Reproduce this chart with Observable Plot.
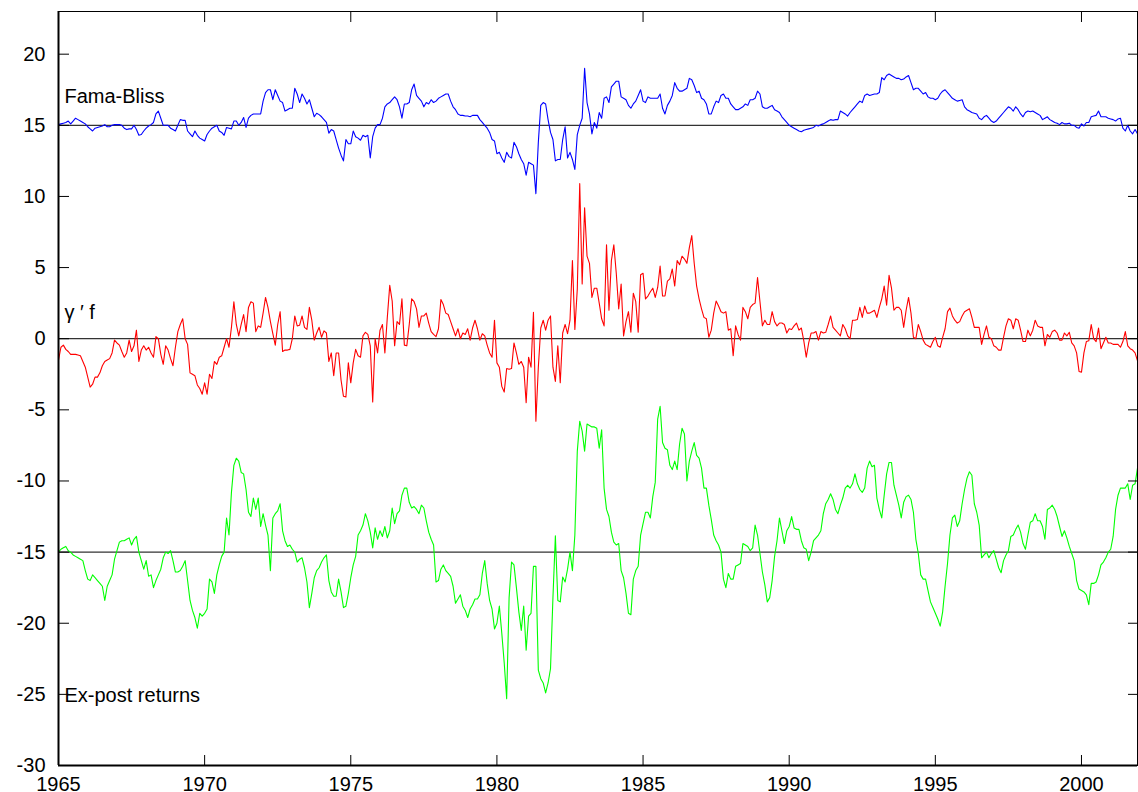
<!DOCTYPE html>
<html>
<head>
<meta charset="utf-8">
<script src="https://cdn.jsdelivr.net/npm/d3@7"></script>
<script src="https://cdn.jsdelivr.net/npm/@observablehq/plot@0.6"></script>
<style>
  html, body { margin: 0; padding: 0; background: #fff; }
  svg { display: block; }
</style>
</head>
<body>
<div id="chart"></div>
<script>
// Monthly series, January 1965 through December 2001 (one row per year).
const startYear = 1965;

// Fama-Bliss forecast (plotted around its 15 baseline)
const famaBliss = [
  15.05, 15.1, 15.15, 15.2, 15.3, 15.1, 15.3, 15.5, 15.4, 15.3, 15.2, 15.1,
  14.9, 14.75, 14.6, 14.8, 14.85, 14.9, 14.95, 15.05, 14.9, 14.9, 15.0, 15.05,
  15.05, 15.05, 15.0, 14.8, 14.7, 14.75, 14.75, 15.0, 14.7, 14.3, 14.35, 14.6,
  14.8, 14.95, 15.05, 15.2, 15.8, 16.0, 15.5, 15.0, 15.0, 15.0, 14.8, 14.7,
  14.6, 15.0, 15.4, 15.35, 15.35, 14.6, 14.4, 14.2, 14.6, 14.3, 14.1, 14.0,
  13.9, 14.35, 14.6, 14.8, 14.9, 15.0, 14.6, 14.5, 14.3, 14.85, 14.8, 14.75,
  15.3, 15.3, 15.0, 15.2, 15.55, 14.85, 15.5, 15.7, 15.8, 15.8, 15.8, 15.8,
  16.7, 17.3, 17.5, 17.5, 16.8, 17.5, 17.1, 16.7, 16.6, 16.0, 16.1, 16.2,
  16.2, 17.6, 17.2, 16.6, 17.2, 16.9, 16.5, 16.8, 16.2, 15.6, 15.85, 15.75,
  15.6, 15.4, 15.2, 14.45, 14.7, 14.6, 14.0, 13.4, 12.9, 12.5, 14.0, 13.7,
  13.7, 14.6, 14.2, 14.1, 13.95, 14.3, 14.2, 14.3, 12.7, 14.2, 14.8, 15.05,
  15.05, 15.5, 16.3, 16.5, 16.6, 16.8, 17.0, 16.8, 16.3, 15.5, 16.5, 16.5,
  16.6, 17.5, 17.9, 17.1, 16.9, 16.7, 16.3, 16.6, 16.5, 16.8, 16.6, 16.7,
  16.9, 17.0, 17.1, 17.2, 17.2, 16.7, 16.3, 16.1, 15.8, 15.7, 15.7, 15.65,
  15.65, 15.6, 15.7, 15.7, 15.7, 15.4, 15.2, 15.0, 14.8, 14.5, 14.0, 13.9,
  13.0, 13.1, 12.7, 12.4, 13.1, 12.8, 12.7, 13.8, 13.5, 13.0, 12.6, 12.3,
  11.5, 12.4, 12.3, 12.2, 10.2, 13.8, 16.4, 16.6, 16.5, 15.4, 14.5, 14.0,
  12.5, 12.6, 12.6, 14.0, 14.9, 12.7, 13.1, 12.6, 11.9, 14.35, 15.0, 15.5,
  19.0, 16.6, 15.8, 14.4, 15.2, 14.8, 15.9, 15.5, 16.9, 17.0, 16.6, 17.7,
  17.9, 18.1, 18.1, 17.0, 16.9, 16.8, 16.4, 16.2, 16.5, 16.7, 17.1, 17.5,
  16.7, 16.6, 17.0, 16.9, 16.9, 16.9, 16.9, 17.2, 16.2, 15.8, 16.4, 16.7,
  17.1, 18.0, 17.6, 17.4, 17.4, 17.5, 17.6, 18.3, 18.2, 17.8, 17.3, 17.4,
  16.9, 16.8, 16.5, 15.8, 15.8, 16.3, 16.7, 16.6, 17.1, 17.2, 16.9, 16.9,
  16.5, 16.3, 16.1, 16.1, 16.2, 16.3, 16.5, 16.4, 16.8, 16.8, 16.9, 17.4,
  17.2, 16.3, 16.2, 16.2, 16.3, 16.4, 16.1, 16.0, 15.9, 15.6, 15.4, 15.2,
  15.0, 14.9, 14.8, 14.7, 14.6, 14.55, 14.65, 14.7, 14.75, 14.8, 14.85, 15.0,
  14.95, 15.05, 15.1, 15.2, 15.3, 15.4, 15.35, 15.4, 15.4, 16.0, 15.9, 15.8,
  15.65, 15.9, 16.1, 16.3, 16.5, 16.7, 16.6, 17.1, 17.2, 17.1, 17.15, 17.2,
  17.2, 17.3, 18.35, 18.2, 18.5, 18.6, 18.5, 18.4, 18.3, 18.3, 18.2, 18.25,
  18.4, 18.5, 18.0, 17.5, 17.6, 17.6, 17.4, 17.2, 17.3, 17.0, 16.9, 16.9,
  16.8, 16.9, 17.2, 17.4, 17.5, 17.3, 17.1, 16.9, 16.8, 16.7, 16.75, 16.8,
  16.3, 16.1, 16.0, 15.9, 15.85, 15.8, 15.5, 15.4, 15.6, 15.7, 15.5, 15.3,
  15.2, 15.3, 15.5, 15.7, 15.9, 16.1, 16.3, 16.2, 16.0, 16.3, 16.1, 15.8,
  15.6, 15.9, 16.0, 15.95, 16.0, 15.9, 15.8, 15.7, 15.4, 15.5, 15.6, 15.4,
  15.3, 15.2, 15.15, 15.05, 15.2, 15.1, 15.1, 15.15, 15.0, 15.0, 14.85, 14.8,
  15.1, 14.95, 15.2, 15.2, 15.6, 15.65, 15.7, 16.0, 15.6, 15.6, 15.6, 15.5,
  15.45, 15.4, 15.3, 15.45, 15.5, 14.8, 14.6, 15.0, 14.6, 14.4, 14.7, 14.4
];

// γ′f forecast (plotted around 0)
const gammaF = [
  -1.5, -0.6, -0.45, -0.75, -0.9, -1.1, -1.1, -1.1, -1.15, -1.2, -1.6, -2.0,
  -2.7, -3.4, -3.2, -2.7, -2.7, -2.4, -1.9, -1.6, -1.5, -1.4, -1.0, -0.1,
  -0.3, -0.45, -0.9, -1.3, -1.0, -0.1, -0.9, -0.5, 0.6, -1.6, -0.8, -0.5,
  -0.8, -0.6, -1.0, -1.3, 0.15, 0.0, -1.1, -1.8, -0.5, -0.8, -1.4, -1.9,
  -0.6, 0.5, 1.0, 1.4, 0.0, -0.4, -2.4, -2.5, -2.6, -3.25, -3.5, -3.9,
  -3.1, -3.9, -2.5, -2.8, -1.6, -1.8, -1.3, -1.2, -0.6, 0.0, -0.6, 0.8,
  2.6, 1.0, 0.2, 1.0, 1.7, 0.5, 2.2, 2.6, 2.5, 0.5, 0.9, 0.8,
  1.8, 2.9, 2.2, 1.2, 0.35, -0.45, 1.0, 1.9, -0.9, -0.8, -0.8, -0.75,
  0.0, 1.6, 0.9, 0.95, 1.6, 0.8, 0.65, 2.2, 1.3, -0.1, 0.4, 0.8,
  0.1, 0.55, 0.4, -1.6, -1.0, -2.6, -1.0, -1.0, -2.9, -4.05, -4.1, -1.7,
  -3.1, -1.7, -0.75, -1.2, -1.3, 0.2, 0.45, 0.3, -0.5, -4.45, 0.0, -1.0,
  0.6, 1.0, -1.0, 1.5, 3.75, 2.65, -0.5, 1.2, 1.0, 2.8, -0.45, -0.5,
  1.0, 2.8, 2.6, 2.1, 0.8, 1.6, 1.6, 1.8, 1.1, 0.5, 0.3, 0.15,
  0.7, 2.75, 2.4, 1.8, 1.7, 1.2, 0.7, 0.2, 0.7, 0.0, 0.4, 0.3,
  0.7, -0.1, 0.75, 1.3, 0.7, -0.1, 0.35, 0.2, -0.45, -1.0, -1.3, 1.3,
  -1.7, -2.0, -3.35, -3.75, -2.1, -2.15, -2.1, -0.3, -1.0, -1.8, -1.6, -2.0,
  -4.5, -1.3, -2.0, 1.85, -5.8, -2.0, 0.75, 1.3, 0.6, 1.3, 1.6, -2.0,
  -3.0, -0.5, -3.1, 0.4, 1.0, 0.35, 1.3, 5.5, 0.65, 3.5, 10.9, 3.85,
  9.2, 5.8, 5.3, 2.9, 3.55, 3.55, 2.5, 1.4, 0.9, 6.6, 2.0, 5.5,
  6.6, 4.6, 2.1, 3.85, 0.2, 1.2, 1.9, 0.45, 3.2, 2.6, 0.45, 4.5,
  4.6, 2.8, 3.0, 3.3, 3.55, 2.9, 3.6, 5.1, 3.0, 3.0, 4.05, 4.2,
  4.9, 3.7, 5.5, 5.2, 5.8, 5.6, 5.3, 6.4, 7.25, 5.3, 3.7, 2.8,
  2.1, 1.5, 1.4, 0.1, 0.6, 1.8, 2.65, 2.3, 1.9, 1.8, 1.9, 0.6,
  0.7, -1.2, 0.9, 0.3, -0.1, 2.2, 1.9, 1.4, 2.2, 2.4, 2.5, 4.3,
  2.6, 0.9, 1.3, 1.0, 1.0, 1.9, 1.2, 0.9, 1.1, 1.1, 1.0, 0.4,
  0.7, 0.65, 0.9, 1.1, 0.6, 0.75, -0.15, -1.3, -0.3, 0.4, 0.4, 0.5,
  -0.1, 0.5, 0.4, 0.45, 1.0, 1.6, 0.8, 0.6, 0.4, 0.2, 1.0, 0.7,
  0.2, 0.0, 1.3, 1.3, 1.35, 2.2, 1.5, 2.3, 1.8, 1.8, 1.9, 2.0,
  1.5, 2.2, 2.8, 3.7, 2.35, 4.45, 3.55, 2.0, 2.2, 2.2, 2.0, 0.8,
  2.0, 2.9, 1.8, 0.1, 0.0, 1.0, 0.5, -0.1, -0.4, -0.5, -0.6, -0.2,
  0.1, -0.5, -0.6, 0.1, 0.7, 1.9, 2.15, 1.6, 1.3, 1.1, 1.2, 1.6,
  1.9, 2.0, 2.1, 1.5, 0.8, 0.8, 0.8, -0.4, 0.3, 0.9, 0.1, 0.0,
  -0.5, -0.6, -0.8, -0.8, 0.1, 0.9, 1.4, 1.3, 0.7, 1.4, 1.3, 0.6,
  -0.2, -0.2, 0.6, 0.2, 0.6, 1.3, 0.9, 0.8, 0.8, -0.5, 0.3, 0.1,
  0.5, 0.6, 0.4, -0.1, -0.1, 0.4, 0.2, 0.45, -0.3, -0.5, -1.0, -2.3,
  -2.35, -1.0, -0.2, -0.15, 1.0, 0.0, -0.2, 0.75, -0.7, -0.3, 0.1, -0.3,
  -0.3, -0.4, -0.4, -0.4, -0.6, -0.2, 0.5, -0.5, -0.7, -0.8, -1.0, -1.55
];

// Ex-post excess returns (plotted around -15)
const expostReturns = [
  -15.0, -14.8, -14.7, -14.6, -14.9, -15.0, -15.2, -15.3, -15.4, -15.5, -15.6, -16.3,
  -16.9, -17.0, -16.6, -16.8, -17.0, -17.2, -17.4, -18.4, -17.4, -17.0, -16.6, -15.5,
  -14.9, -14.3, -14.2, -14.2, -14.1, -14.0, -14.5, -14.1, -13.9, -15.0, -15.6, -16.2,
  -15.6, -16.7, -16.6, -17.5, -17.0, -16.6, -16.2, -15.4, -15.0, -15.1, -14.9, -15.6,
  -16.4, -16.4, -16.3, -16.0, -15.6, -17.0, -18.4, -19.1, -19.6, -20.35, -19.3, -19.5,
  -19.3, -19.0, -16.9, -17.1, -17.9, -16.6, -15.9, -15.3, -15.0, -12.6, -13.8, -10.8,
  -8.9, -8.4, -8.6, -9.4, -9.5, -10.6, -12.2, -12.5, -11.2, -12.0, -11.2, -13.2,
  -12.3, -13.1, -13.8, -16.3, -12.6, -12.3, -12.1, -11.6, -13.5, -14.2, -14.6, -14.5,
  -14.8, -15.0, -15.7, -15.5, -15.4, -16.1, -17.1, -18.9, -17.9, -16.8, -16.3, -16.1,
  -15.7, -15.4, -15.2, -17.0, -17.8, -18.1, -18.1, -16.9, -17.8, -18.9, -18.8, -17.9,
  -16.8, -15.9, -15.3, -13.8, -13.5, -13.1, -12.3, -12.8, -13.6, -14.7, -13.3, -14.1,
  -13.5, -13.9, -13.2, -14.0, -13.5, -11.9, -13.0, -12.3, -12.1, -11.0, -10.5, -10.5,
  -11.5, -11.9, -11.8, -12.0, -12.3, -11.7, -11.9, -12.8, -13.6, -14.1, -14.5, -17.1,
  -17.0, -16.2, -15.9, -16.3, -16.5, -16.7, -17.4, -18.6, -18.3, -18.0, -18.8, -19.1,
  -19.6, -19.0, -18.7, -18.3, -18.3, -18.0, -16.5, -15.6, -17.2, -18.4, -19.0, -20.4,
  -20.0, -18.8, -20.7, -22.8, -25.3, -18.2, -15.7, -15.9, -17.5, -19.2, -20.5, -18.8,
  -21.9, -19.5, -19.3, -16.0, -16.0, -23.3, -23.9, -24.2, -24.9, -24.2, -23.2, -18.2,
  -13.85, -18.4, -18.5, -16.75, -17.1, -16.2, -15.0, -16.3, -13.8, -7.9, -5.8, -6.5,
  -7.9, -6.0, -6.1, -6.2, -6.2, -6.3, -7.7, -6.4, -10.5, -12.0, -12.5, -13.6,
  -14.3, -14.5, -14.4, -16.3, -16.8, -17.9, -19.3, -19.4, -16.9, -16.3, -16.0, -13.8,
  -13.0, -12.2, -12.2, -12.6, -11.1, -10.1, -5.65, -4.75, -7.3, -7.7, -7.8, -8.9,
  -9.2, -8.6, -9.2, -7.4, -6.3, -6.7, -10.0, -8.6, -7.9, -7.3, -8.2, -8.4,
  -9.1, -10.5, -10.5, -11.7, -12.7, -13.8, -14.2, -14.5, -15.0, -16.9, -17.5, -16.5,
  -16.9, -16.9, -16.0, -15.9, -15.8, -14.4, -14.5, -14.6, -14.9, -14.7, -13.1, -13.8,
  -15.1, -16.4, -17.3, -18.5, -18.2, -17.0, -15.3, -14.2, -12.6, -13.5, -14.4, -13.5,
  -13.2, -12.5, -13.3, -13.4, -13.4, -14.2, -14.7, -14.8, -15.6, -15.0, -14.2, -14.0,
  -13.8, -13.5, -12.3, -11.6, -11.3, -10.9, -11.3, -12.0, -12.3, -11.7, -11.2, -10.5,
  -10.3, -10.5, -10.2, -9.5, -10.2, -10.6, -10.8, -10.5, -9.1, -8.6, -9.0, -8.9,
  -11.2, -12.0, -12.6, -11.0, -9.5, -8.7, -8.7, -10.3, -11.0, -11.7, -12.6, -11.5,
  -11.1, -11.0, -11.3, -12.2, -14.1, -15.1, -16.6, -16.9, -16.9, -17.7, -18.5, -18.9,
  -19.3, -19.7, -20.2, -19.2, -17.4, -15.8, -13.8, -12.6, -12.4, -13.2, -12.8, -11.6,
  -10.6, -9.8, -9.35, -9.6, -11.6, -12.2, -13.1, -15.4, -15.2, -15.0, -15.4, -15.1,
  -14.9, -15.5, -16.1, -16.45, -15.6, -15.2, -14.9, -13.9, -13.8, -13.4, -13.1, -13.6,
  -14.4, -14.8, -13.8, -12.9, -12.8, -12.3, -12.8, -12.8, -13.2, -14.1, -12.0, -11.9,
  -11.7, -12.0, -12.5, -13.2, -13.9, -13.5, -14.0, -14.6, -15.1, -15.6, -17.0, -17.6,
  -17.7, -17.8, -18.0, -18.7, -17.2, -17.2, -17.1, -16.6, -15.9, -15.7, -15.4, -15.0,
  -14.8, -13.9, -12.0, -11.0, -10.5, -10.5, -10.5, -10.2, -11.3, -10.3, -10.2, -9.1
];

const seriesNames = ["Fama-Bliss", "γ ′ f", "Ex-post returns"];
const seriesColors = ["#0000ff", "#ff0000", "#00ff00"];
const baselines = [15, 0, -15];
const xTicks = [1965, 1970, 1975, 1980, 1985, 1990, 1995, 2000];
const yTicks = [-30, -25, -20, -15, -10, -5, 0, 5, 10, 15, 20];

const allSeries = [famaBliss, gammaF, expostReturns];
const rows = allSeries.flatMap((values, s) =>
  values.map((v, i) => ({date: startYear + i / 12, value: v, series: seriesNames[s]}))
);

const yMin = -30, yMax = 23;
const xMin = startYear, xMax = startYear + (famaBliss.length - 1) / 12;

const chart = Plot.plot({
  width: 1138,
  height: 792,
  marginLeft: 58,
  marginRight: 1,
  marginTop: 11,
  marginBottom: 27,
  style: {
    fontFamily: '"Liberation Sans", Arial, Helvetica, sans-serif',
    fontSize: "20px",
    color: "#000",
    background: "#fff"
  },
  x: {domain: [xMin, xMax]},
  y: {domain: [yMin, yMax]},
  marks: [
    // reference lines for each series' offset
    Plot.ruleY(baselines, {stroke: "#333", strokeWidth: 1.2}),
    // the three monthly series
    ...seriesNames.map((name, s) =>
      Plot.lineY(rows.filter(d => d.series === name), {
        x: "date",
        y: "value",
        stroke: seriesColors[s],
        strokeWidth: 1.1
      })
    ),
    // box around the plot; left and bottom edges drawn heavier
    Plot.frame({stroke: "#000", strokeWidth: 1}),
    Plot.ruleX([xMin], {stroke: "#000", strokeWidth: 2}),
    Plot.ruleY([yMin], {stroke: "#000", strokeWidth: 2}),
    // axes: labels on left/bottom, inward ticks on all four sides
    Plot.axisX({anchor: "bottom", ticks: xTicks, tickSize: 0, tickPadding: 11, tickFormat: d => String(d), label: null}),
    Plot.axisX({anchor: "bottom", ticks: xTicks, tickSize: -10, fill: "none", label: null}),
    Plot.axisX({anchor: "top", ticks: xTicks, tickSize: -10, fill: "none", label: null}),
    Plot.axisY({anchor: "left", ticks: yTicks, tickSize: 0, tickPadding: 13, tickFormat: d => String(d), label: null}),
    Plot.axisY({anchor: "left", ticks: yTicks, tickSize: -11, fill: "none", label: null}),
    Plot.axisY({anchor: "right", ticks: yTicks, tickSize: -10, fill: "none", label: null}),
    // series labels
    Plot.text([seriesNames[0]], {frameAnchor: "left", y: 17.0, dx: 6, text: d => d, textAnchor: "start", fill: "#000"}),
    Plot.text([seriesNames[1]], {frameAnchor: "left", y: 1.86, dx: 6, text: d => d, textAnchor: "start", fill: "#000"}),
    Plot.text([seriesNames[2]], {frameAnchor: "left", y: -25.08, dx: 6, text: d => d, textAnchor: "start", fill: "#000"})
  ]
});

document.getElementById("chart").appendChild(chart);
</script>
</body>
</html>
